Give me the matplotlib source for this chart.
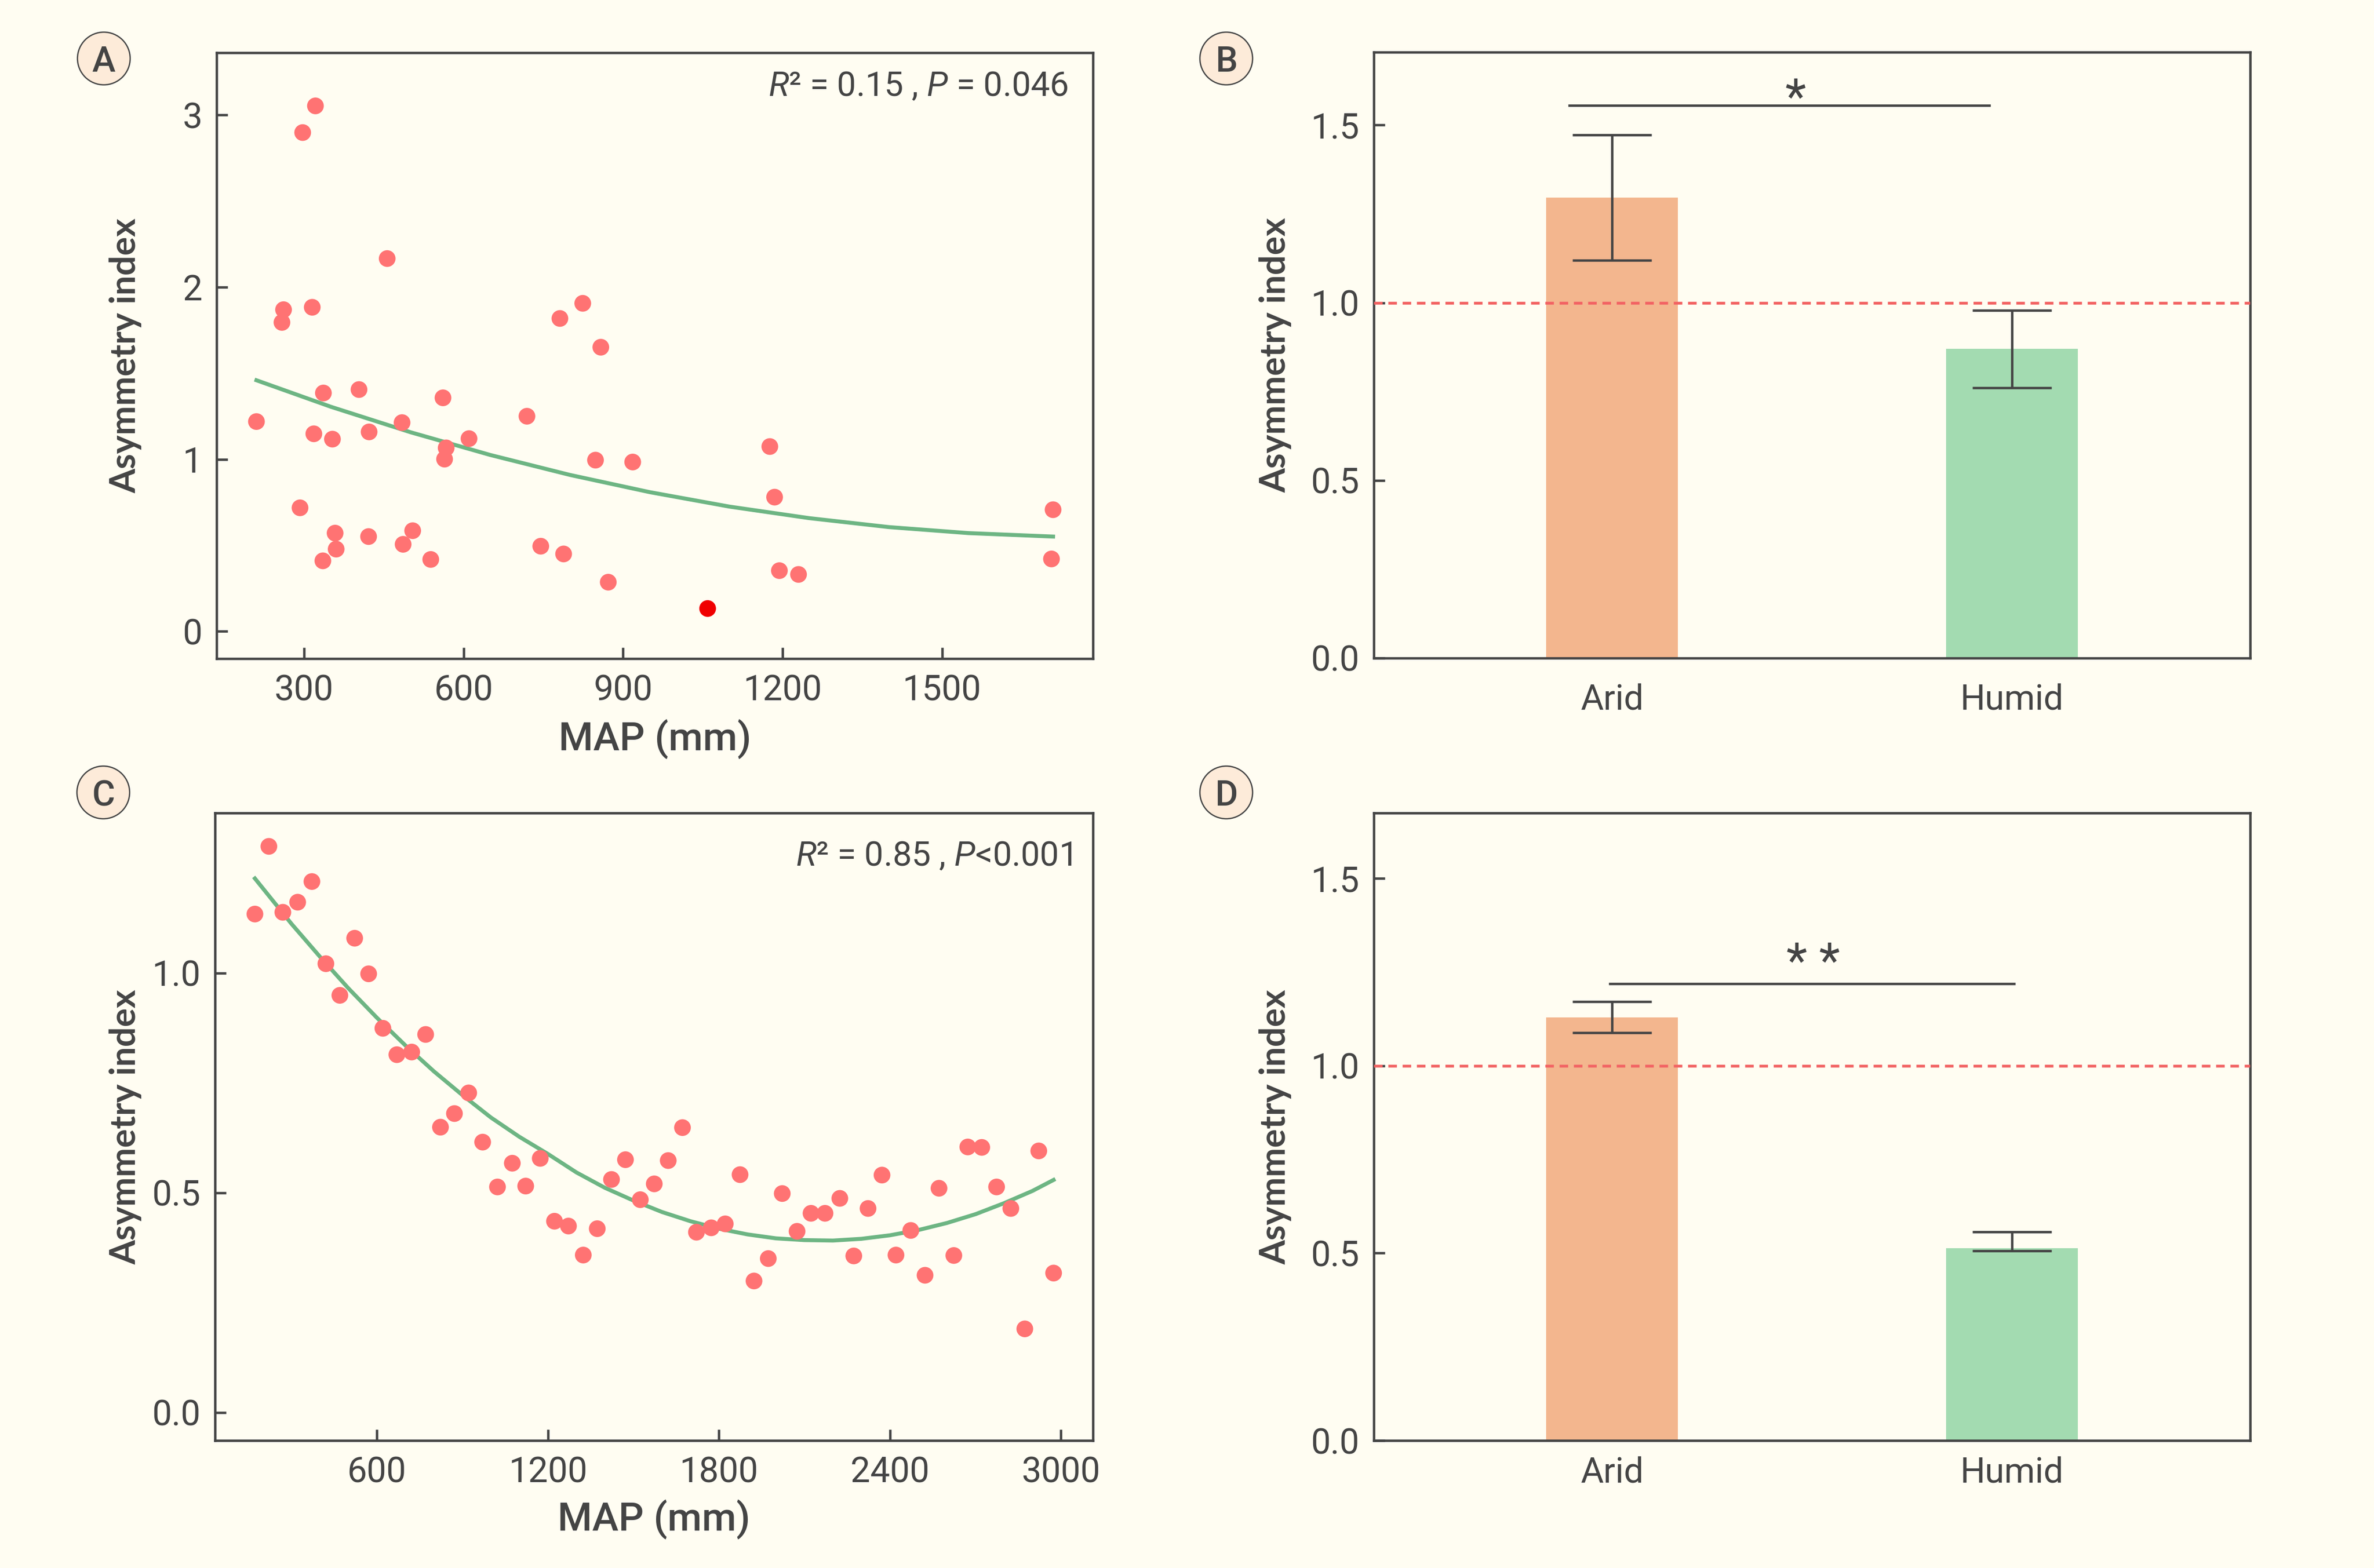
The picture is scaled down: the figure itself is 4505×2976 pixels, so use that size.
import matplotlib
matplotlib.use("Agg")
import matplotlib.pyplot as plt
from matplotlib.patches import Ellipse

# Panel A: asymmetry index vs MAP
map_a = [210, 261, 258, 297, 321, 315, 292, 318, 336, 353, 335, 358, 360, 403,
         422, 421, 456, 484, 486, 504, 538, 561, 567, 564, 610, 719, 745, 781,
         788, 824, 858, 848, 872, 918, 1176, 1185, 1194, 1230, 1709, 1706]
ai_a = [1.219, 1.869, 1.795, 2.898, 3.053, 1.883, 0.718, 1.148, 1.385, 1.117,
        0.410, 0.571, 0.478, 1.405, 1.159, 0.551, 2.166, 1.213, 0.506, 0.585,
        0.418, 1.357, 1.066, 1.001, 1.120, 1.250, 0.495, 1.818, 0.450, 1.906,
        1.651, 0.995, 0.286, 0.984, 1.074, 0.780, 0.353, 0.331, 0.707, 0.421]
map_a_out = [1059]
ai_a_out = [0.133]
fit_a_x = [210, 350, 500, 650, 800, 950, 1100, 1250, 1400, 1550, 1709]
fit_a_y = [1.459, 1.305, 1.157, 1.025, 0.909, 0.809, 0.725, 0.658, 0.606, 0.571, 0.551]

# Panel C
map_c = [172, 221, 270, 322, 372, 421, 470, 522, 571, 621, 670, 722, 771, 823,
         872, 922, 971, 1023, 1075, 1122, 1173, 1223, 1272, 1324, 1373, 1423,
         1472, 1524, 1573, 1622, 1672, 1721, 1773, 1822, 1874, 1923, 1973, 2022,
         2074, 2123, 2172, 2224, 2273, 2323, 2372, 2421, 2473, 2523, 2572, 2624,
         2673, 2722, 2774, 2824, 2873, 2922, 2974]
ai_c = [1.134, 1.288, 1.138, 1.161, 1.208, 1.021, 0.949, 1.079, 0.998, 0.874,
        0.814, 0.820, 0.860, 0.649, 0.680, 0.727, 0.615, 0.513, 0.567, 0.515,
        0.578, 0.435, 0.424, 0.358, 0.418, 0.530, 0.575, 0.484, 0.520, 0.573,
        0.648, 0.410, 0.420, 0.429, 0.541, 0.299, 0.350, 0.498, 0.412, 0.453,
        0.453, 0.487, 0.356, 0.464, 0.540, 0.358, 0.414, 0.312, 0.510, 0.357,
        0.604, 0.603, 0.513, 0.464, 0.190, 0.595, 0.317]
fit_c_x = [172, 300, 400, 500, 600, 700, 800, 900, 1000, 1100, 1200, 1300, 1400,
           1500, 1600, 1700, 1800, 1900, 2000, 2100, 2200, 2300, 2400, 2500, 2600,
           2700, 2800, 2900, 2974]
fit_c_y = [1.215, 1.112, 1.037, 0.965, 0.898, 0.835, 0.776, 0.722, 0.671, 0.627,
           0.588, 0.546, 0.511, 0.482, 0.456, 0.435, 0.418, 0.405, 0.396, 0.392,
           0.391, 0.395, 0.403, 0.415, 0.431, 0.451, 0.476, 0.504, 0.529]

# Panels B and D
groups = ["Arid", "Humid"]
bar_b = [1.296, 0.870]
err_b = [0.176, 0.109]
bar_d = [1.130, 0.513]
err_d_lo = [0.042, 0.007]
err_d_hi = [0.042, 0.044]

BG = "#FFFDF2"
DARK = "#444444"
DOT = "#FF7373"
GREEN = "#6DB583"
BAR_COLORS = ["#F3B68E", "#A3DBB1"]
REF_RED = "#F26464"

W, H = 4505, 2976
plt.rcParams["font.family"] = ["Roboto", "DejaVu Sans"]
plt.rcParams["mathtext.fontset"] = "custom"
plt.rcParams["mathtext.rm"] = "Roboto"
plt.rcParams["mathtext.it"] = "Roboto:italic"


def px_rect(left, right, top, bottom):
    return [left / W, 1 - bottom / H, (right - left) / W, (bottom - top) / H]


def style_axes(ax, xpad, ypad):
    ax.set_facecolor(BG)
    for s in ax.spines.values():
        s.set_color(DARK)
        s.set_linewidth(1.1)
    ax.tick_params(direction="in", length=5, width=1.1, color=DARK,
                   labelcolor=DARK, labelsize=16)
    ax.tick_params(axis="x", pad=xpad)
    ax.tick_params(axis="y", pad=ypad)
    ax.set_ylabel("Asymmetry index", fontfamily="Lato", fontweight="bold",
                  fontsize=16, color=DARK, va="center")


def scatter_panel(ax, x, y, fx, fy, note, note_xy):
    ax.plot(fx, fy, color=GREEN, lw=1.8, zorder=2, solid_joinstyle="round")
    ax.scatter(x, y, s=58, color=DOT, edgecolors="none", zorder=3)
    style_axes(ax, 7, 6.5)
    ax.set_xlabel("MAP (mm)", fontsize=18, fontweight="medium", color=DARK, va="center")
    ax.text(note_xy[0], note_xy[1], note, transform=ax.transAxes, ha="right",
            va="baseline", fontsize=15.5, color=DARK)


def bar_panel(ax, vals, err, ylim, xpad):
    xs = list(range(len(groups)))
    ax.bar(xs, vals, width=0.33, color=BAR_COLORS, yerr=err, capsize=18,
           error_kw=dict(elinewidth=1.1, capthick=1.1, ecolor=DARK), zorder=2)
    ax.axhline(1.0, color=REF_RED, lw=1.3, ls=(0, (3, 2)), zorder=3)
    ax.set_xticks(xs)
    ax.set_xticklabels(groups)
    ax.set_xlim(-0.595, 1.595)
    ax.set_ylim(*ylim)
    ax.set_yticks([0.0, 0.5, 1.0, 1.5])
    ax.set_yticklabels(["0.0", "0.5", "1.0", "1.5"])
    style_axes(ax, xpad, 6.5)


fig = plt.figure(figsize=(W / 300, H / 300), dpi=300, facecolor=BG)

ax_a = fig.add_axes(px_rect(411, 2074, 100, 1250))
scatter_panel(ax_a, map_a, ai_a, fit_a_x, fit_a_y,
              r"$R$² = 0.15 , $P$ = 0.046", (0.972, 0.929))
ax_a.scatter(map_a_out, ai_a_out, s=58, color="#F00000", edgecolors="none", zorder=4)
ax_a.set_xlim(135, 1784)
ax_a.set_ylim(-0.158, 3.362)
ax_a.set_xticks([300, 600, 900, 1200, 1500])
ax_a.set_yticks([0, 1, 2, 3])
ax_a.yaxis.set_label_coords(-0.104, 0.5)
ax_a.xaxis.set_label_coords(0.5, -0.133)

ax_c = fig.add_axes(px_rect(408, 2074, 1543, 2734))
scatter_panel(ax_c, map_c, ai_c, fit_c_x, fit_c_y,
              r"$R$² = 0.85 , $P$<0.001", (0.976, 0.916))
ax_c.set_xlim(32, 3112)
ax_c.set_ylim(-0.064, 1.364)
ax_c.set_xticks([600, 1200, 1800, 2400, 3000])
ax_c.set_yticks([0.0, 0.5, 1.0])
ax_c.set_yticklabels(["0.0", "0.5", "1.0"])
ax_c.yaxis.set_label_coords(-0.102, 0.5)
ax_c.xaxis.set_label_coords(0.5, -0.126)

ax_b = fig.add_axes(px_rect(2607, 4270, 99, 1249))
bar_panel(ax_b, bar_b, err_b, (0, 1.705), 11.5)
ax_b.plot([-0.107, 0.943], [1.555, 1.555], color=DARK, lw=1.1)
ax_b.text(0.459, 1.534, "*", ha="center", va="baseline", fontsize=22, color=DARK)
ax_b.yaxis.set_label_coords(-0.112, 0.5)

ax_d = fig.add_axes(px_rect(2607, 4270, 1543, 2734))
bar_panel(ax_d, bar_d, [err_d_lo, err_d_hi], (0, 1.675), 7)
ax_d.plot([-0.005, 1.005], [1.219, 1.219], color=DARK, lw=1.1)
ax_d.text(0.503, 1.236, "* *", ha="center", va="baseline", fontsize=22, color=DARK)
ax_d.yaxis.set_label_coords(-0.112, 0.5)

# panel letters in round badges
for letter, cx, cy in [("A", 197, 111), ("B", 2327, 111), ("C", 196, 1504), ("D", 2327, 1504)]:
    fig.add_artist(Ellipse((cx / W, 1 - cy / H), 100 / W, 100 / H,
                           transform=fig.transFigure, facecolor="#FDEBD9",
                           edgecolor=DARK, lw=0.6))
    fig.text(cx / W, 1 - cy / H, letter, ha="center", va="center_baseline",
             fontsize=16, fontweight="medium", color=DARK)

fig.savefig("out.png", dpi=300, facecolor=BG)
